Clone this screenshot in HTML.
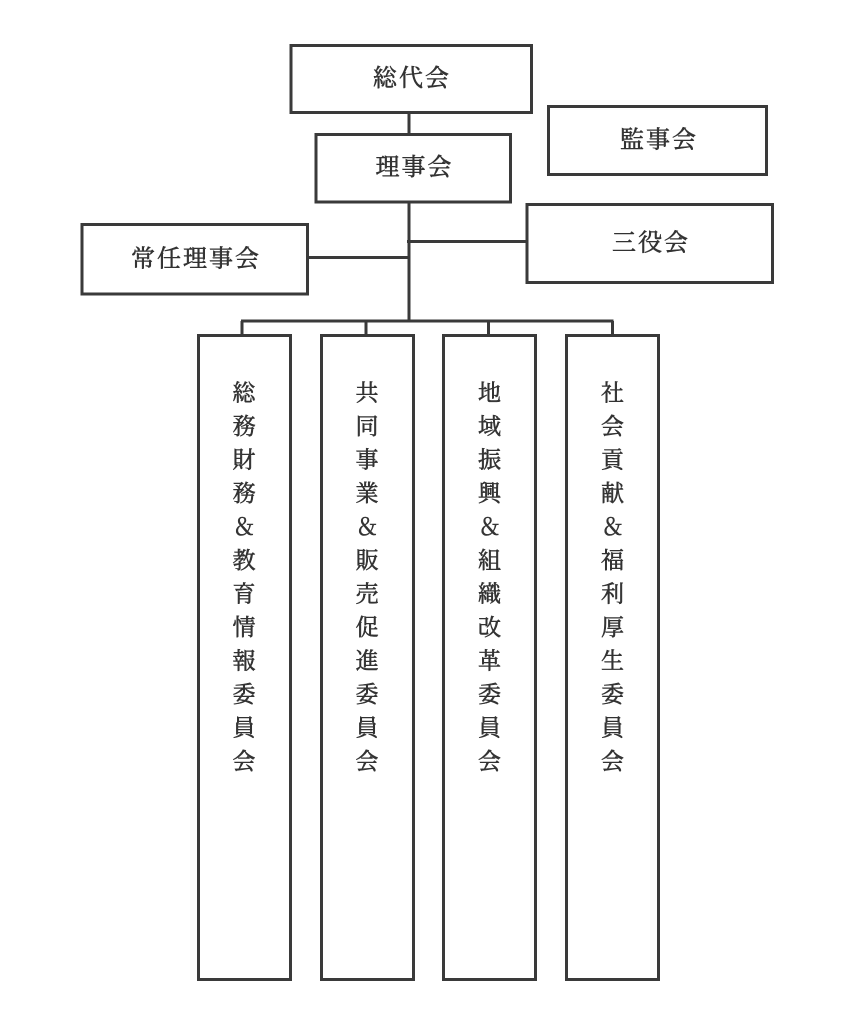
<!DOCTYPE html>
<html lang="ja">
<head>
<meta charset="utf-8">
<style>
  html, body { margin: 0; padding: 0; background: #ffffff; }
  body { width: 853px; height: 1024px; overflow: hidden; }
  svg { display: block; }
  text { font-family: "Liberation Serif", "Noto Serif CJK SC", "Noto Serif CJK JP", serif; fill: #333333; stroke: #333333; stroke-width: 0.55px; }
  .h { font-size: 24px; letter-spacing: 2px; text-anchor: middle; dominant-baseline: central; }
  .v { font-size: 23px; text-anchor: middle; dominant-baseline: central; }
</style>
</head>
<body>
<svg width="853" height="1024" viewBox="0 0 853 1024" xmlns="http://www.w3.org/2000/svg">
  <g fill="none" stroke="#3a3a3a" stroke-width="3">
    <!-- connectors -->
    <line x1="409" y1="114" x2="409" y2="133"/>
    <line x1="409" y1="203" x2="409" y2="321"/>
    <line x1="407" y1="241.5" x2="527" y2="241.5"/>
    <line x1="308" y1="257.5" x2="409" y2="257.5"/>
    <line x1="241" y1="321" x2="613.5" y2="321"/>
    <line x1="242" y1="321" x2="242" y2="334"/>
    <line x1="366" y1="321" x2="366" y2="334"/>
    <line x1="488.5" y1="321" x2="488.5" y2="334"/>
    <line x1="612.5" y1="321" x2="612.5" y2="334"/>

    <!-- top boxes -->
    <rect x="291" y="45.5" width="240.5" height="67"/>
    <rect x="316" y="134.5" width="194.5" height="67.5"/>
    <rect x="548.5" y="106.5" width="218" height="68"/>
    <rect x="527" y="204.5" width="245.5" height="78"/>
    <rect x="82" y="224.5" width="225.5" height="69.5"/>

    <!-- committee boxes -->
    <rect x="198.5" y="335.5" width="92" height="644"/>
    <rect x="321.5" y="335.5" width="92" height="644"/>
    <rect x="443.5" y="335.5" width="92" height="644"/>
    <rect x="566.5" y="335.5" width="92" height="644"/>
  </g>

  <!-- top labels -->
  <text class="h" x="412" y="79">総代会</text>
  <text class="h" x="414.5" y="168">理事会</text>
  <text class="h" x="659" y="140.5">監事会</text>
  <text class="h" x="651" y="243.5">三役会</text>
  <text class="h" x="196" y="259.5">常任理事会</text>

  <!-- committee 1 -->
  <g>
    <text class="v" x="244" y="393">総</text>
    <text class="v" x="244" y="426.5">務</text>
    <text class="v" x="244" y="460">財</text>
    <text class="v" x="244" y="493.5">務</text>
    <text class="v" x="244" y="527">＆</text>
    <text class="v" x="244" y="560.5">教</text>
    <text class="v" x="244" y="594">育</text>
    <text class="v" x="244" y="627.5">情</text>
    <text class="v" x="244" y="661">報</text>
    <text class="v" x="244" y="694.5">委</text>
    <text class="v" x="244" y="728">員</text>
    <text class="v" x="244" y="761.5">会</text>
  </g>
  <!-- committee 2 -->
  <g>
    <text class="v" x="367" y="393">共</text>
    <text class="v" x="367" y="426.5">同</text>
    <text class="v" x="367" y="460">事</text>
    <text class="v" x="367" y="493.5">業</text>
    <text class="v" x="367" y="527">＆</text>
    <text class="v" x="367" y="560.5">販</text>
    <text class="v" x="367" y="594">売</text>
    <text class="v" x="367" y="627.5">促</text>
    <text class="v" x="367" y="661">進</text>
    <text class="v" x="367" y="694.5">委</text>
    <text class="v" x="367" y="728">員</text>
    <text class="v" x="367" y="761.5">会</text>
  </g>
  <!-- committee 3 -->
  <g>
    <text class="v" x="489.5" y="393">地</text>
    <text class="v" x="489.5" y="426.5">域</text>
    <text class="v" x="489.5" y="460">振</text>
    <text class="v" x="489.5" y="493.5">興</text>
    <text class="v" x="489.5" y="527">＆</text>
    <text class="v" x="489.5" y="560.5">組</text>
    <text class="v" x="489.5" y="594">織</text>
    <text class="v" x="489.5" y="627.5">改</text>
    <text class="v" x="489.5" y="661">革</text>
    <text class="v" x="489.5" y="694.5">委</text>
    <text class="v" x="489.5" y="728">員</text>
    <text class="v" x="489.5" y="761.5">会</text>
  </g>
  <!-- committee 4 -->
  <g>
    <text class="v" x="612.5" y="393">社</text>
    <text class="v" x="612.5" y="426.5">会</text>
    <text class="v" x="612.5" y="460">貢</text>
    <text class="v" x="612.5" y="493.5">献</text>
    <text class="v" x="612.5" y="527">＆</text>
    <text class="v" x="612.5" y="560.5">福</text>
    <text class="v" x="612.5" y="594">利</text>
    <text class="v" x="612.5" y="627.5">厚</text>
    <text class="v" x="612.5" y="661">生</text>
    <text class="v" x="612.5" y="694.5">委</text>
    <text class="v" x="612.5" y="728">員</text>
    <text class="v" x="612.5" y="761.5">会</text>
  </g>
</svg>
</body>
</html>
